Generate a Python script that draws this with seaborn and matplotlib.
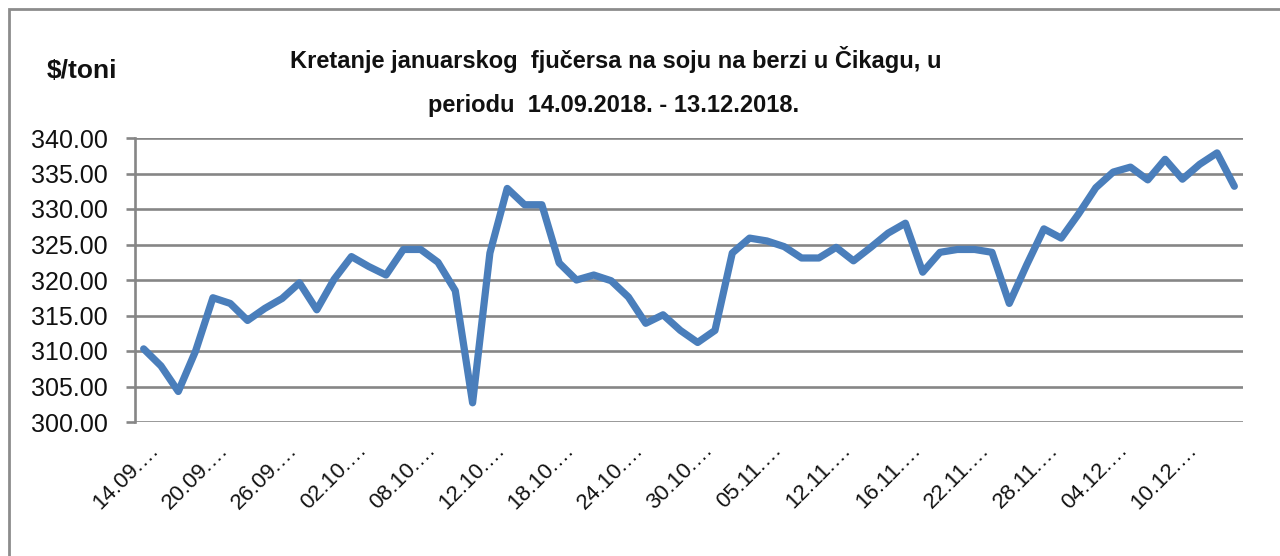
import matplotlib
matplotlib.use("Agg")
import matplotlib.pyplot as plt
import matplotlib.transforms as mtransforms
from matplotlib.patches import Rectangle
import seaborn as sns
import pandas as pd

dates = [
    "14.09.2018.", "17.09.2018.", "18.09.2018.", "19.09.2018.", "20.09.2018.", "21.09.2018.",
    "24.09.2018.", "25.09.2018.", "26.09.2018.", "27.09.2018.", "28.09.2018.", "01.10.2018.",
    "02.10.2018.", "03.10.2018.", "04.10.2018.", "05.10.2018.", "08.10.2018.", "09.10.2018.",
    "10.10.2018.", "11.10.2018.", "12.10.2018.", "15.10.2018.", "16.10.2018.", "17.10.2018.",
    "18.10.2018.", "19.10.2018.", "22.10.2018.", "23.10.2018.", "24.10.2018.", "25.10.2018.",
    "26.10.2018.", "29.10.2018.", "30.10.2018.", "31.10.2018.", "01.11.2018.", "02.11.2018.",
    "05.11.2018.", "06.11.2018.", "07.11.2018.", "09.11.2018.", "12.11.2018.", "13.11.2018.",
    "14.11.2018.", "15.11.2018.", "16.11.2018.", "19.11.2018.", "20.11.2018.", "21.11.2018.",
    "22.11.2018.", "23.11.2018.", "26.11.2018.", "27.11.2018.", "28.11.2018.", "29.11.2018.",
    "30.11.2018.", "03.12.2018.", "04.12.2018.", "05.12.2018.", "06.12.2018.", "07.12.2018.",
    "10.12.2018.", "11.12.2018.", "12.12.2018.", "13.12.2018.",
]

prices = [
    310.3, 307.9, 304.3, 310.0, 317.5, 316.7, 314.3, 316.0, 317.4, 319.6,
    315.8, 320.1, 323.3, 321.9, 320.7, 324.3, 324.3, 322.5, 318.5, 302.7,
    323.8, 332.9, 330.6, 330.6, 322.4, 320.0, 320.7, 319.9, 317.6, 313.9,
    315.1, 312.9, 311.2, 312.9, 323.8, 325.9, 325.5, 324.7, 323.1, 323.1,
    324.6, 322.7, 324.6, 326.6, 328.0, 321.1, 323.9, 324.3, 324.3, 323.9,
    316.7, 322.1, 327.2, 325.9, 329.3, 333.0, 335.2, 335.9, 334.1, 337.0,
    334.2, 336.3, 337.9, 333.2,
]

y_ticks = [300, 305, 310, 315, 320, 325, 330, 335, 340]
label_step = 4

title_line1 = "Kretanje januarskog  fjučersa na soju na berzi u Čikagu, u"
title_line2 = "periodu  14.09.2018. - 13.12.2018."
unit_label = "$/toni"

df = pd.DataFrame({"idx": range(len(prices)), "price": prices})

sns.set_style("white")
plt.rcParams["font.family"] = ["Liberation Sans", "DejaVu Sans"]

fig = plt.figure(figsize=(12.8, 5.56), dpi=100)
W, H = 1280, 556
ax = fig.add_axes([135 / W, 1 - 422 / H, (1243 - 135) / W, (422 - 138) / H])

sns.lineplot(data=df, x="idx", y="price", ax=ax, color="#4A7EBB", linewidth=5.2,
             solid_joinstyle="round", solid_capstyle="round")

ax.set_xlim(-0.5, len(prices) - 0.5)
ax.set_ylim(y_ticks[0], y_ticks[-1])
ax.set_yticks(y_ticks)
ax.set_yticklabels([f"{v:.2f}" for v in y_ticks])
ax.yaxis.grid(True, color="#868686", linewidth=1.9)
ax.xaxis.grid(False)
ax.set_axisbelow(True)

tick_pos = list(range(0, len(prices), label_step))
ax.set_xticks(tick_pos)
ax.set_xticklabels([])
base = mtransforms.blended_transform_factory(ax.transData, ax.transAxes)
shift = mtransforms.ScaledTranslation(12 / 100, -25 / 100, fig.dpi_scale_trans)
for i in tick_pos:
    ax.text(i, 0, dates[i][:6] + "…", transform=base + shift, rotation=45,
            rotation_mode="anchor", ha="right", va="center", fontsize=16, color="#111111")

ax.tick_params(axis="y", length=6.5, width=1.9, color="#868686", labelsize=18, pad=13,
               left=True, labelcolor="#111111")
ax.tick_params(axis="x", length=0)

for side in ["top", "right", "bottom"]:
    ax.spines[side].set_visible(False)
ax.spines["left"].set_color("#868686")
ax.spines["left"].set_linewidth(1.9)

ax.set_xlabel("")
ax.set_ylabel("")

fig.text(616 / W, 1 - 68 / H, title_line1, ha="center", va="baseline", fontsize=17,
         fontweight="bold", color="#111111")
fig.text(614 / W, 1 - 112 / H, title_line2, ha="center", va="baseline", fontsize=17,
         fontweight="bold", color="#111111")
fig.text(82 / W, 1 - 78 / H, unit_label, ha="center", va="baseline", fontsize=19,
         fontweight="bold", color="#111111")

fig.patches.append(Rectangle((9 / W, -0.05), 1.2, 1 - 9 / H + 0.05, transform=fig.transFigure,
                             fill=False, edgecolor="#8C8C8C", linewidth=2))

fig.savefig("out.png", dpi=100, facecolor="white")
